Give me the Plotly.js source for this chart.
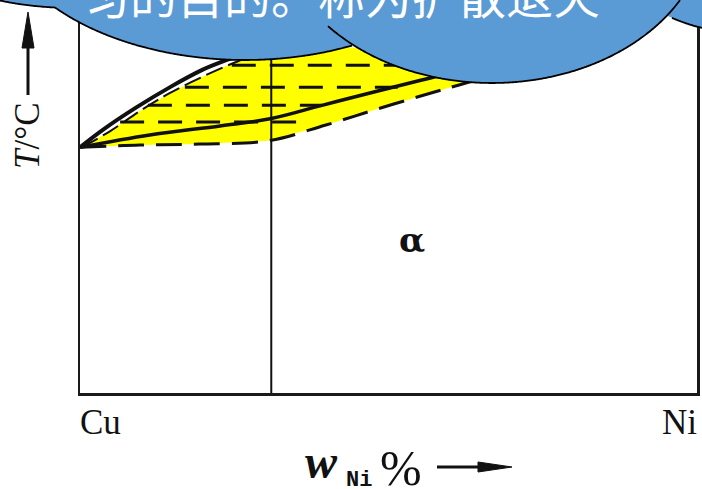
<!DOCTYPE html>
<html>
<head>
<meta charset="utf-8">
<script src="https://cdn.plot.ly/plotly-3.0.1.min.js"></script>
<style>
  html, body { margin: 0; padding: 0; background: #fff; }
  #chart { width: 702px; height: 489px; }
</style>
</head>
<body>
<div id="chart"></div>
<script>
// Cu–Ni isomorphous diagram: composition w(Ni) in %, temperature in °C
const liquidusW = [0, 3.7, 9.2, 14.6, 19.9, 23.8, 29.2, 35.7, 43.8, 55.1];
const liquidusT = [1080, 1107, 1142, 1173, 1200, 1215, 1233, 1252, 1267, 1286];

// upper edge of the segregation band, just under the liquidus
const bandTopW = [0.3, 4.9, 9.7, 14.6, 19.4, 23.8, 28.4, 34.0];
const bandTopT = [1080, 1105, 1136, 1164, 1187, 1206, 1223, 1238];

const solidusW = [0, 11.3, 22.7, 30.8, 38.9, 47.0, 55.4, 63.2, 74.6];
const solidusT = [1080, 1099, 1113, 1124, 1144, 1164, 1184, 1203, 1227];

// non-equilibrium solidus (lower edge of the band)
const nonEqSolidusW = [0, 9.7, 19.4, 30.5, 39.7, 47.8, 56.2, 61.3, 68.1, 77.8];
const nonEqSolidusT = [1080, 1083.5, 1085, 1090, 1114, 1138, 1162, 1176, 1195, 1221];

// horizontal tie lines across the band
const tieT = [1207, 1173, 1145, 1119];
const tieStartW = [24.6, 17.0, 11.0, 6.5];
const tieEndW = [63.2, 51.5, 39.2, 35.7];

const alloyW = 31;
const axisRangeW = [0, 100];
const axisRangeT = [700, 1300];

const endLabels = ['Cu', 'Ni'];
const phaseLabel = 'α';
const calloutText = '匀的目的。称为扩散退火';

// ---- plot geometry (pixel <-> paper helpers) ----
const W = 702, H = 489;
const M = { l: 80, r: 5, t: 5, b: 96 };
const PW = W - M.l - M.r, PH = H - M.t - M.b;
const px = p => (p - M.l) / PW;
const py = p => (H - M.b - p) / PH;

const black = '#111';
const traces = [];

// yellow band between the non-equilibrium liquidus and solidus
traces.push({
  x: bandTopW.concat(nonEqSolidusW.slice().reverse()),
  y: bandTopT.concat(nonEqSolidusT.slice().reverse()),
  mode: 'lines', fill: 'toself', fillcolor: '#ffff00',
  line: { width: 0 }, hoverinfo: 'skip'
});

tieT.forEach((t, i) => {
  traces.push({
    x: [tieStartW[i], tieEndW[i]], y: [t, t], mode: 'lines',
    line: { color: black, width: 3, dash: '24px,14px' }
  });
});

traces.push({ x: nonEqSolidusW, y: nonEqSolidusT, mode: 'lines',
  line: { color: black, width: 3, dash: '26px,12px', shape: 'spline' } });
traces.push({ x: bandTopW, y: bandTopT, mode: 'lines',
  line: { color: black, width: 2, dash: '18px,6px', shape: 'spline' } });
traces.push({ x: solidusW, y: solidusT, mode: 'lines',
  line: { color: black, width: 3.5, shape: 'spline' } });
traces.push({ x: liquidusW, y: liquidusT, mode: 'lines',
  line: { color: black, width: 4, shape: 'spline' } });
traces.push({ x: [alloyW, alloyW], y: axisRangeT, mode: 'lines',
  line: { color: black, width: 2 } });

// ---- callout clouds ----
const clouds = [
  { cx: 760, cy: -55, rx: 150, ry: 90, from: 672, to: 702 },
  { cx: 75, cy: -40, rx: 140, ry: 48, from: 0, to: 55 },
  { cx: 245, cy: -90, rx: 250, ry: 150, from: 55, to: 352 },
  { cx: 492, cy: -78, rx: 215, ry: 161, from: 328, to: 680 }
];
const shapes = [];
clouds.forEach(c => {
  shapes.push({
    type: 'circle', xref: 'paper', yref: 'paper',
    x0: px(c.cx - c.rx), x1: px(c.cx + c.rx),
    y0: py(c.cy + c.ry), y1: py(c.cy - c.ry),
    fillcolor: '#5b9bd5', line: { width: 0 }, layer: 'above'
  });
});
clouds.forEach(c => {
  const pts = [];
  for (let x = c.from; x <= c.to; x += 1) {
    const u = (x - c.cx) / c.rx;
    const y = c.cy + c.ry * Math.sqrt(Math.max(0, 1 - u * u));
    pts.push(px(x).toFixed(5) + ',' + py(y).toFixed(5));
  }
  shapes.push({
    type: 'path', xref: 'paper', yref: 'paper',
    path: 'M' + pts.join('L'),
    line: { color: '#000', width: 1.8 }, layer: 'above'
  });
});

// axis arrows
shapes.push({ type: 'line', xref: 'paper', yref: 'paper',
  x0: px(437), x1: px(482), y0: py(467), y1: py(467),
  line: { color: black, width: 3 } });
shapes.push({ type: 'path', xref: 'paper', yref: 'paper',
  path: `M${px(478)},${py(462)}L${px(478)},${py(472)}L${px(512)},${py(467)}Z`,
  fillcolor: black, line: { color: black, width: 1 } });
shapes.push({ type: 'line', xref: 'paper', yref: 'paper',
  x0: px(28), x1: px(28), y0: py(95), y1: py(45),
  line: { color: black, width: 3 } });
shapes.push({ type: 'path', xref: 'paper', yref: 'paper',
  path: `M${px(22)},${py(48)}L${px(34)},${py(48)}L${px(28)},${py(12)}Z`,
  fillcolor: black, line: { color: black, width: 1 } });

const serif = 'Liberation Serif, Times New Roman, serif';
const ann = (text, x, y, font, extra) => Object.assign({
  text: text, xref: 'paper', yref: 'paper', x: px(x), y: py(y),
  xanchor: 'center', yanchor: 'middle', showarrow: false, font: font
}, extra || {});

const annotations = [
  ann(calloutText, 81, 30, { family: 'Noto Sans CJK SC', size: 47, color: '#fff' },
      { xanchor: 'left', yanchor: 'bottom' }),
  ann(endLabels[0], 78, 422, { family: serif, size: 35, color: black }, { xanchor: 'left' }),
  ann(endLabels[1], 699, 422, { family: serif, size: 35, color: black }, { xanchor: 'right' }),
  { text: '<b>' + phaseLabel + '</b>', x: 53.8, y: 937, xanchor: 'center', yanchor: 'middle',
    showarrow: false, font: { family: 'DejaVu Serif, serif', size: 34, color: black } },
  ann('<b><i>w</i></b>', 321, 461, { family: serif, size: 48, color: black }),
  ann('<b>Ni</b>', 359, 480, { family: 'Liberation Mono, monospace', size: 22, color: black }),
  ann('%', 401, 468, { family: serif, size: 50, color: black }),
  ann('<i>T</i>/°C', 27, 136, { family: serif, size: 35, color: black }, { textangle: -90 })
];

const axisCommon = {
  showline: true, mirror: true, linecolor: '#1a1a1a', linewidth: 2.5,
  showgrid: false, zeroline: false, showticklabels: false, ticks: '', fixedrange: true
};

Plotly.newPlot('chart', traces, {
  width: W, height: H, margin: M,
  paper_bgcolor: '#fff', plot_bgcolor: '#fff', showlegend: false,
  xaxis: Object.assign({ range: axisRangeW }, axisCommon),
  yaxis: Object.assign({ range: axisRangeT }, axisCommon),
  shapes: shapes, annotations: annotations
}, { staticPlot: true, displayModeBar: false });
</script>
</body>
</html>
